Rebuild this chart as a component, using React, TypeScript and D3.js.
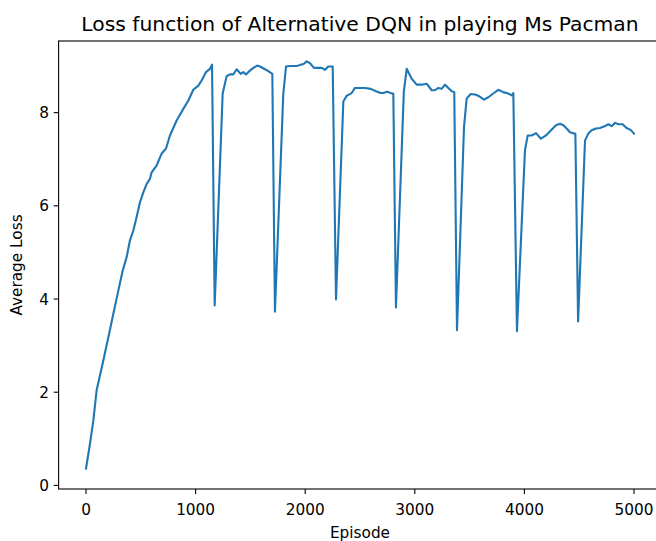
import React from "react";
import * as d3 from "d3";

// episode numbers and the average loss
const episodes = [
  0, 36, 67, 97, 158, 204, 249, 295, 335, 371, 401, 432, 462, 493, 523, 554,
  584, 599, 645, 690, 730, 766, 827, 888, 934, 979, 1025, 1055, 1095, 1131,
  1150, 1174, 1247, 1283, 1314, 1344, 1375, 1411, 1435, 1460, 1490, 1527,
  1563, 1588, 1633, 1663, 1700, 1724, 1800, 1825, 1861, 1922, 1953, 1989,
  2013, 2044, 2080, 2120, 2150, 2181, 2211, 2251, 2281, 2348, 2378, 2424,
  2454, 2500, 2546, 2598, 2646, 2689, 2713, 2749, 2789, 2804, 2828, 2900,
  2926, 2971, 3017, 3063, 3108, 3154, 3184, 3215, 3245, 3276, 3306, 3337,
  3360, 3385, 3449, 3473, 3510, 3549, 3589, 3631, 3671, 3716, 3762, 3807,
  3853, 3884, 3899, 3932, 4005, 4030, 4066, 4106, 4151, 4197, 4243, 4288,
  4325, 4355, 4386, 4416, 4453, 4465, 4490, 4553, 4583, 4614, 4653, 4690,
  4726, 4766, 4796, 4827, 4857, 4896, 4932, 4969, 5000,
];

const loss = [
  0.36, 0.89, 1.39, 2.04, 2.68, 3.18, 3.68, 4.18, 4.61, 4.9, 5.26, 5.47, 5.76,
  6.08, 6.29, 6.47, 6.58, 6.72, 6.87, 7.12, 7.23, 7.51, 7.83, 8.08, 8.26,
  8.49, 8.58, 8.69, 8.87, 8.94, 9.03, 3.86, 8.41, 8.78, 8.82, 8.82, 8.93,
  8.83, 8.87, 8.82, 8.89, 8.96, 9.01, 8.99, 8.93, 8.89, 8.83, 3.73, 8.4,
  8.99, 9.0, 9.0, 9.02, 9.05, 9.1, 9.06, 8.96, 8.96, 8.96, 8.92, 8.99, 8.99,
  3.99, 8.24, 8.36, 8.42, 8.53, 8.53, 8.53, 8.51, 8.46, 8.42, 8.42, 8.45,
  8.41, 8.41, 3.82, 8.45, 8.94, 8.73, 8.6, 8.6, 8.62, 8.48, 8.48, 8.53, 8.51,
  8.6, 8.53, 8.46, 8.44, 3.33, 7.69, 8.3, 8.4, 8.39, 8.35, 8.28, 8.33, 8.41,
  8.49, 8.44, 8.41, 8.37, 8.42, 3.31, 7.19, 7.51, 7.51, 7.56, 7.44, 7.51,
  7.62, 7.73, 7.76, 7.73, 7.66, 7.58, 7.55, 7.55, 3.52, 7.4, 7.55, 7.62,
  7.66, 7.67, 7.7, 7.75, 7.71, 7.78, 7.75, 7.75, 7.67, 7.63, 7.55,
];

const xTicks = [0, 1000, 2000, 3000, 4000, 5000];
const yTicks = [0, 2, 4, 6, 8];

const W = 656;
const H = 541;
const left = 58.6;
const right = 661.4;
const top = 41;
const bottom = 489;
const font = "DejaVu Sans, sans-serif";
const tickSize = 15.3;

const App = () => {
  const [x0, x1] = d3.extent(episodes) as [number, number];
  const [y0, y1] = d3.extent(loss) as [number, number];
  const xPad = (x1 - x0) * 0.05;
  const yPad = (y1 - y0) * 0.05;

  const x = d3.scaleLinear().domain([x0 - xPad, x1 + xPad]).range([left, right]);
  const y = d3.scaleLinear().domain([y0 - yPad, y1 + yPad]).range([bottom, top]);

  const line = d3
    .line<number>()
    .x((_, i) => x(episodes[i]))
    .y((d) => y(d));

  return (
    <svg
      width={W}
      height={H}
      style={{ position: "absolute", left: 0, top: 0, background: "#fff" }}
      fontFamily={font}
    >
      <path
        d={line(loss) ?? ""}
        fill="none"
        stroke="#1f77b4"
        strokeWidth={2.1}
        strokeLinejoin="round"
        strokeLinecap="square"
      />

      {/* spines */}
      <rect
        x={left}
        y={top}
        width={right - left}
        height={bottom - top}
        fill="none"
        stroke="#000"
        strokeWidth={1.1}
      />

      {xTicks.map((t) => (
        <g key={t} transform={`translate(${x(t)},${bottom})`}>
          <line y2={4.9} stroke="#000" strokeWidth={1.1} />
          <text y={26} textAnchor="middle" fontSize={tickSize} fill="#000">
            {t}
          </text>
        </g>
      ))}

      {yTicks.map((t) => (
        <g key={t} transform={`translate(${left},${y(t)})`}>
          <line x2={-4.9} stroke="#000" strokeWidth={1.1} />
          <text x={-9.5} dy="0.36em" textAnchor="end" fontSize={tickSize} fill="#000">
            {t}
          </text>
        </g>
      ))}

      <text x={(left + right) / 2} y={537.5} textAnchor="middle" fontSize={tickSize} fill="#000">
        Episode
      </text>
      <text
        transform={`translate(21.5,${(top + bottom) / 2}) rotate(-90)`}
        textAnchor="middle"
        fontSize={tickSize}
        fill="#000"
      >
        Average Loss
      </text>
      <text x={(left + right) / 2} y={30.5} textAnchor="middle" fontSize={20.3} fill="#000">
        Loss function of Alternative DQN in playing Ms Pacman
      </text>
    </svg>
  );
};

export default App;
